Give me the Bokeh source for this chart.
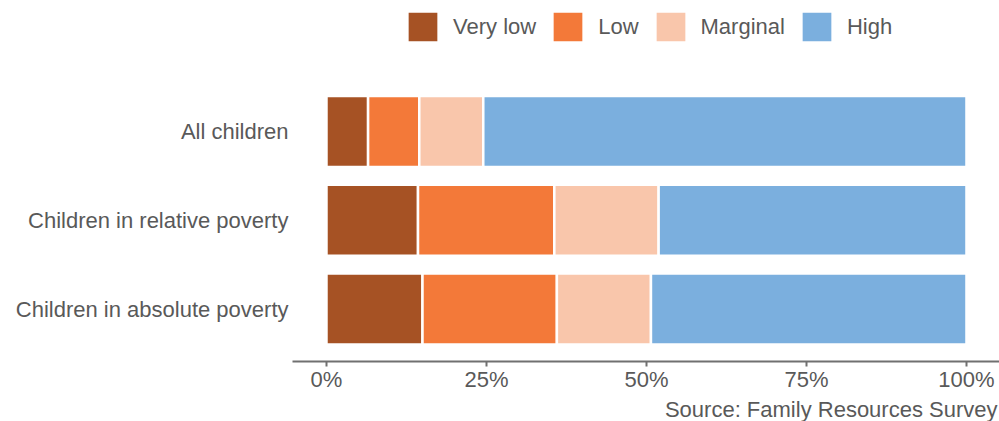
from bokeh.plotting import figure
from bokeh.models import ColumnDataSource, Range1d, FixedTicker, Title
from bokeh.embed import file_html
from bokeh.resources import INLINE

# Food security of children, share of each group (%)
categories = ["All children", "Children in relative poverty", "Children in absolute poverty"]
levels = ["Very low", "Low", "Marginal", "High"]
very_low = [6.5, 14.3, 15.0]
low = [8.0, 21.3, 21.0]
marginal = [10.0, 16.3, 14.7]
high = [75.5, 48.1, 49.3]
tick_values = [0, 25, 50, 75, 100]
tick_labels = ["0%", "25%", "50%", "75%", "100%"]
colors = ["#A65224", "#F37939", "#F9C6AB", "#7BAFDE"]

FONT = "Liberation Sans"
TEXT = "#595959"

# rows are laid out top to bottom
row_pos = [len(categories) - 1 - i for i in range(len(categories))]

source = ColumnDataSource(dict(
    cat=categories, pos=row_pos,
    **{"Very low": very_low, "Low": low, "Marginal": marginal, "High": high},
))

p = figure(
    width=999, height=421,
    y_range=Range1d(-0.59, 3.474),
    x_range=Range1d(-5.31, 105.16),
    output_backend="svg", toolbar_location=None,
    min_border_left=292, min_border_right=0,
    min_border_top=0, min_border_bottom=59,
)

p.hbar_stack(levels, y="pos", height=0.80, color=colors, source=source,
             line_color="white", line_width=2.5,
             legend_label=levels)

# x axis: percentage scale
xa = p.xaxis[0]
xa.ticker = FixedTicker(ticks=tick_values)
xa.major_label_overrides = {v: t for v, t in zip(tick_values, tick_labels)}
xa.axis_line_color = "#707070"
xa.axis_line_width = 2
xa.major_tick_line_color = "#707070"
xa.major_tick_line_width = 2
xa.major_tick_in = 0
xa.major_tick_out = 5
xa.minor_tick_line_color = None
xa.major_label_standoff = 0
xa.major_label_text_font = FONT
xa.major_label_text_font_size = "22px"
xa.major_label_text_color = TEXT

# y axis: category names only
ya = p.yaxis[0]
ya.ticker = FixedTicker(ticks=row_pos)
ya.major_label_overrides = {pos: name for pos, name in zip(row_pos, categories)}
ya.axis_line_color = None
ya.major_tick_line_color = None
ya.minor_tick_line_color = None
ya.major_tick_in = 0
ya.major_tick_out = 0
ya.major_label_standoff = 4
ya.major_label_text_font = FONT
ya.major_label_text_font_size = "22px"
ya.major_label_text_color = TEXT

p.xgrid.visible = False
p.ygrid.visible = False
p.outline_line_color = None

# legend in a single row above the bars
lg = p.legend[0]
lg.orientation = "horizontal"
lg.location = (111, 315)
lg.padding = 0
lg.margin = 0
lg.spacing = 12
lg.glyph_width = 39
lg.glyph_height = 39
lg.label_height = 39
lg.label_standoff = 11
lg.border_line_color = None
lg.background_fill_alpha = 0
lg.label_text_font = FONT
lg.label_text_font_size = "22px"
lg.label_text_color = TEXT

# data source note under the axis
p.add_layout(Title(
    text="Source: Family Resources Survey", align="right",
    text_font=FONT, text_font_size="22px", text_font_style="normal",
    text_color=TEXT, standoff=0, offset=2,
), "below")

open("out.html", "w").write(file_html(p, INLINE))
